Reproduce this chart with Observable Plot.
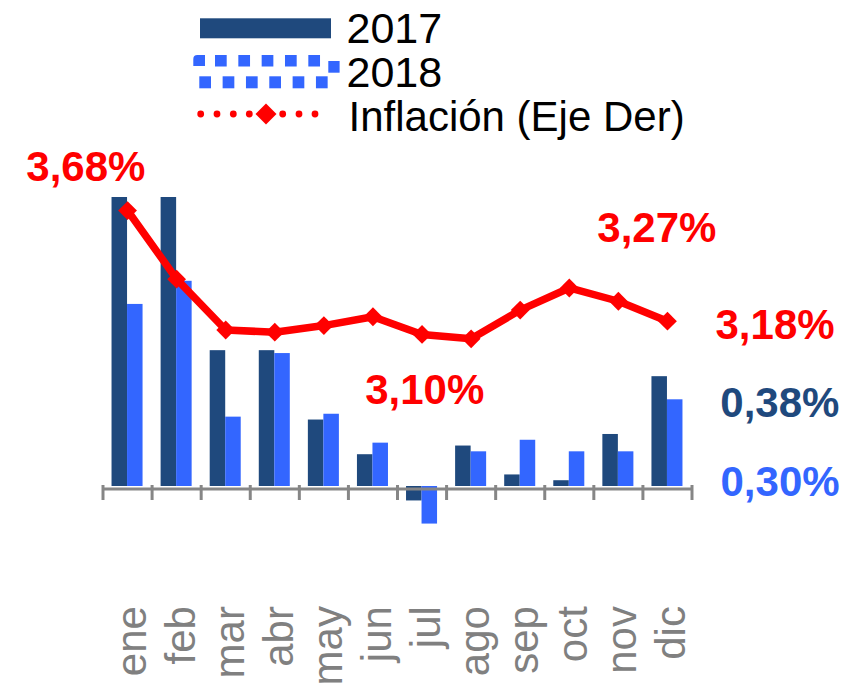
<!DOCTYPE html>
<html>
<head>
<meta charset="utf-8">
<script src="https://cdn.jsdelivr.net/npm/d3@7"></script>
<script src="https://cdn.jsdelivr.net/npm/@observablehq/plot@0.6"></script>
<style>
  html, body { margin: 0; padding: 0; background: #fff; }
  body { width: 858px; height: 684px; overflow: hidden; font-family: "Liberation Sans", Arial, sans-serif; }
  #legend { width: 858px; height: 140px; }
  #legend svg, #chart svg { display: block; }
</style>
</head>
<body>
<div id="legend"></div>
<div id="chart"></div>
<script>
// ---- data ----
const months = ["ene","feb","mar","abr","may","jun","jul","ago","sep","oct","nov","dic"];
const series2017 = [1.02, 1.01, 0.47, 0.47, 0.23, 0.11, -0.05, 0.14, 0.04, 0.02, 0.18, 0.38];
const series2018 = [0.63, 0.71, 0.24, 0.46, 0.25, 0.15, -0.13, 0.12, 0.16, 0.12, 0.12, 0.30];
const inflation  = [3.68, 3.37, 3.14, 3.13, 3.16, 3.20, 3.12, 3.10, 3.23, 3.33, 3.27, 3.18];
const seriesNames = ["2017", "2018", "Inflación (Eje Der)"];
const leftDomain = [-0.4, 1.0];
const rightDomain = [1.91, 3.739];

// ---- styles ----
const NAVY = "#1F497D", BLUE = "#3366FF", RED = "#FF0000", GRAY = "#868686";
const FONT = "'Liberation Sans', Arial, sans-serif";

// ---- legend (HTML/SVG above the chart) ----
(function legend() {
  const svg = d3.select("#legend").append("svg").attr("width", 858).attr("height", 140);
  // 2017 swatch
  svg.append("rect").attr("x", 200).attr("y", 18.3).attr("width", 131).attr("height", 20).attr("fill", NAVY);
  // 2018 swatch: dashed outline of squares
  const g2 = svg.append("g").attr("fill", BLUE);
  for (let k = 0; k < 5; k++) g2.append("rect").attr("x", 215 + 23.33 * k).attr("y", 55).attr("width", 11.7).attr("height", 11.5);
  g2.append("rect").attr("x", 328.3).attr("y", 61).attr("width", 11.3).attr("height", 11.7);
  g2.append("path").attr("d", "M193.3,66 L193.3,59 Q193.3,55 197.3,55 L205,55 L205,66 Z");
  for (let k = 0; k < 6; k++) g2.append("rect").attr("x", 199.3 + 23.33 * k).attr("y", 76.3).attr("width", 11.7).attr("height", 12);
  // Inflation swatch: dotted line + diamond
  const g3 = svg.append("g").attr("fill", RED);
  [200.7, 217, 233.3, 249.3, 282.7, 299, 315].forEach(x => g3.append("circle").attr("cx", x).attr("cy", 114).attr("r", 3.4));
  g3.append("path").attr("d", "M266,103.5 L276.5,114 L266,124.5 L255.5,114 Z");
  // texts
  const baselines = [43.3, 86.8, 130.5];
  const sizes = [43, 43, 42];
  seriesNames.forEach((name, i) => {
    svg.append("text").attr("x", i === 2 ? 348.5 : 346.5).attr("y", baselines[i])
      .attr("font-family", FONT).attr("font-size", sizes[i]).attr("fill", "#000").text(name);
  });
})();

// ---- chart ----
const W = 858, H = 544;
const marginLeft = 102.5, marginRight = 166.5, marginTop = 57, marginBottom = 82.4;
const step = (W - marginLeft - marginRight) / months.length;
const groupW = step * 0.632, pad = (step - groupW) / 2, barW = groupW / 2;

const data = months.map((m, i) => ({month: m, y17: series2017[i], y18: series2018[i], infl: inflation[i]}));
const toLeft = d3.scaleLinear().domain(rightDomain).range(leftDomain);
const fmt = v => v.toFixed(2).replace(".", ",") + "%";

function label(value, yValue, month, color, dx, dy) {
  return Plot.text([value], {
    x: () => month, y: () => yValue, text: d => fmt(d),
    fill: color, fontSize: 42, fontWeight: "bold", textAnchor: "middle", lineAnchor: "bottom", dx, dy
  });
}

const chart = Plot.plot({
  width: W, height: H,
  marginLeft, marginRight, marginTop, marginBottom,
  style: {fontFamily: FONT, background: "#fff", overflow: "visible"},
  x: {domain: months, padding: 0, round: false, axis: null},
  y: {domain: leftDomain, axis: null},
  marks: [
    Plot.barY(data, {x: "month", y: "y17", fill: NAVY, insetLeft: pad, insetRight: pad + barW, clip: true}),
    Plot.barY(data, {x: "month", y: "y18", fill: BLUE, insetLeft: pad + barW, insetRight: pad, clip: true}),
    // category axis line and ticks between categories
    Plot.ruleY([0], {stroke: GRAY, strokeWidth: 3, dy: 2.5}),
    Plot.ruleX(months, {x: d => d, y1: 0, y2: 0, insetTop: -1, insetBottom: -14, dx: -step / 2, stroke: GRAY, strokeWidth: 3}),
    Plot.ruleX([months[months.length - 1]], {x: d => d, y1: 0, y2: 0, insetTop: -1, insetBottom: -14, dx: step / 2, stroke: GRAY, strokeWidth: 3}),
    // category labels
    Plot.text(months, {x: d => d, frameAnchor: "bottom", rotate: -90, textAnchor: "end", lineAnchor: "bottom",
      dx: 18, dy: 4, fontSize: 42, fill: "#808080"}),
    // inflation line (right axis mapped onto left)
    Plot.line(data, {x: "month", y: d => toLeft(d.infl), stroke: RED, strokeWidth: 7.5, strokeLinejoin: "round"}),
    Plot.dot(data, {x: "month", y: d => toLeft(d.infl), r: 7.5, fill: RED,
      symbol: {draw(ctx, size) { const r = Math.sqrt(size / 2); ctx.moveTo(0, -r); ctx.lineTo(r, 0); ctx.lineTo(0, r); ctx.lineTo(-r, 0); ctx.closePath(); }}}),
    // annotations
    label(inflation[0], toLeft(inflation[0]), months[0], RED, -41.7, -29.3),
    label(inflation[7], toLeft(inflation[7]), months[7], RED, -46.4, 65),
    label(inflation[10], toLeft(inflation[10]), months[10], RED, 38.5, -59),
    label(inflation[11], toLeft(inflation[11]), months[11], RED, 107.6, 17.7),
    label(series2017[11], series2017[11], months[11], NAVY, 112.4, 40.5),
    label(series2018[11], series2018[11], months[11], BLUE, 112.6, 95.7)
  ]
});
document.getElementById("chart").appendChild(chart);
</script>
</body>
</html>
